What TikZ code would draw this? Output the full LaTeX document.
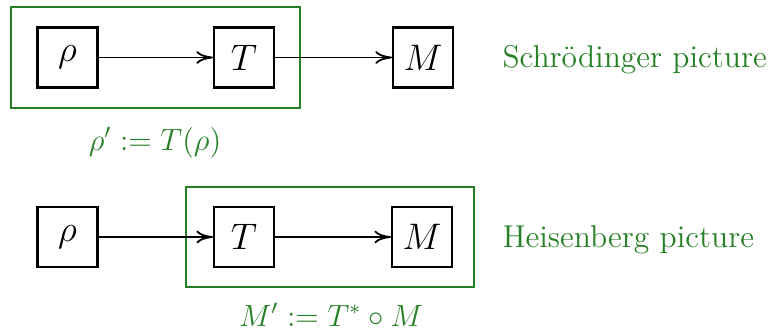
\documentclass[tikz,border=0pt]{standalone}
\usetikzlibrary{arrows.meta}
\definecolor{pgreen}{RGB}{38,128,38}
\begin{document}
\begin{tikzpicture}[x=0.39pt,y=-0.39pt,
  opbox/.style={draw,line width=0.8pt,minimum width=23.4pt,minimum height=23.4pt,inner sep=0pt,font=\fontsize{15.5}{19}\selectfont},
  groupbox/.style={draw=pgreen,line width=0.8pt},
  arr/.style={line width=0.7pt,-{To[length=6.5pt,width=5pt]}},
  lbl/.style={text=pgreen,font=\fontsize{12}{14}\selectfont,inner sep=0pt},
  title/.style={text=pgreen,font=\fontsize{12.3}{15}\selectfont,inner sep=0pt,anchor=base west}]
\useasboundingbox (0,0) rectangle (769,330);
% top row
\node[opbox] (r1) at (67.5,57.5) {$\rho$};
\node[opbox] (t1) at (244,57.5) {$T$};
\node[opbox] (m1) at (423,57.5) {$M$};
\draw[groupbox] (11,7) rectangle (300,108);
\draw[arr] (r1) -- (t1);
\draw[arr] (t1) -- (m1);
\node[lbl,anchor=base] (l1) at (155,150) {$\rho' := T(\rho)$};
\node[title] (s1) at (502,67) {Schr\"odinger picture};
% bottom row
\node[opbox] (r2) at (67.5,237) {$\rho$};
\node[opbox] (t2) at (244,237) {$T$};
\node[opbox] (m2) at (422,237) {$M$};
\draw[groupbox] (186,187) rectangle (474,287);
\draw[arr] (r2) -- (t2);
\draw[arr] (t2) -- (m2);
\node[lbl,anchor=base] (l2) at (331,326) {$M' := T^{*}\circ M$};
\node[title] (s2) at (502,247) {Heisenberg picture};
\end{tikzpicture}
\end{document}
